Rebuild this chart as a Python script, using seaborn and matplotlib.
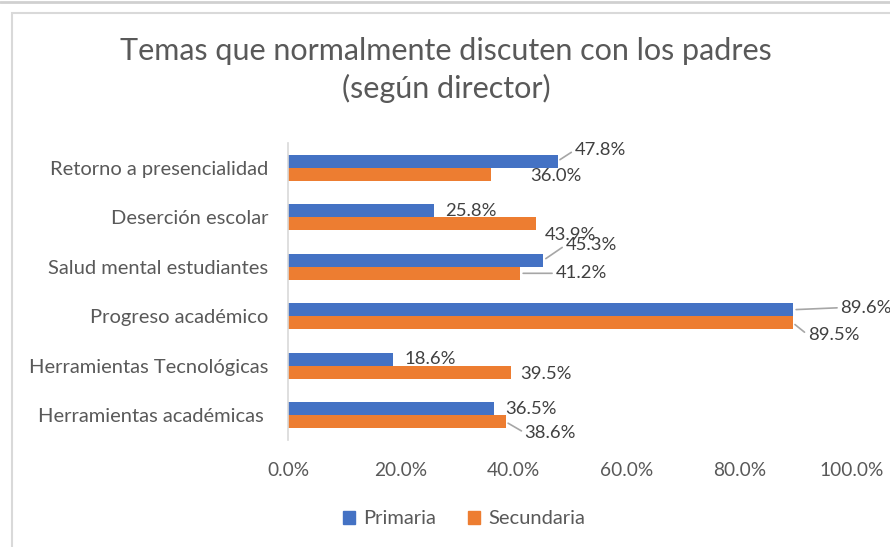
import matplotlib
matplotlib.use("Agg")
import matplotlib.pyplot as plt
import seaborn as sns
import pandas as pd
from matplotlib.patches import Rectangle
from matplotlib.lines import Line2D

categories = ["Retorno a presencialidad", "Deserción escolar", "Salud mental estudiantes",
              "Progreso académico", "Herramientas Tecnológicas", "Herramientas académicas "]
primaria = [47.8, 25.8, 45.3, 89.6, 18.6, 36.5]
secundaria = [36.0, 43.9, 41.2, 89.5, 39.5, 38.6]
series = ["Primaria", "Secundaria"]
xticks = [0, 20, 40, 60, 80, 100]
title = "Temas que normalmente discuten con los padres\n(según director)"

# label offsets in pixels (dx, dy up) and whether a leader line is drawn
offs_p = [(17, 11, True), (12, 0, False), (22, 15, True), (47, 2, True), (12, 0, False), (11, 0, False)]
offs_s = [(39, -2, False), (9, -11, False), (35, 0, True), (15, -12, True), (9, -2, False), (19, -11, True)]

df = pd.DataFrame({
    "cat": categories * 2,
    "val": primaria + secundaria,
    "serie": [series[0]] * len(categories) + [series[1]] * len(categories),
})

sns.set_theme(style="white")
plt.rcParams["font.family"] = ["Lato", "DejaVu Sans"]

colors = {"Primaria": "#4472C4", "Secundaria": "#ED7D31"}
fig = plt.figure(figsize=(8.9, 5.47), dpi=100)
ax = fig.add_axes([288/890, 1-440/547, (852-288)/890, (440-143)/547])
sns.barplot(data=df, y="cat", x="val", hue="serie", orient="h", palette=colors,
            width=0.53, ax=ax, legend=False, saturation=1, edgecolor="none")

ax.set_xlim(0, 100)
ax.set_ylim(5.5, -0.5)
ax.set_xticks(xticks)
ax.set_xticklabels([f"{t:.1f}%" for t in xticks], color="#595959", fontsize=13.8)
ax.tick_params(axis="y", labelsize=14.5, labelcolor="#595959", length=0, pad=14)
ax.tick_params(axis="x", length=0, pad=16)
ax.set_xlabel("")
ax.set_ylabel("")
for s in ["top", "right", "bottom"]:
    ax.spines[s].set_visible(False)
ax.spines["left"].set_color("#D9D9D9")
ax.spines["left"].set_linewidth(1.2)

pt = 72 / 100
for cont, offs in zip(ax.containers, [offs_p, offs_s]):
    for p, (dx, dy, lead) in zip(cont.patches, offs):
        w = p.get_width()
        yc = p.get_y() + p.get_height() / 2
        kw = {}
        if lead:
            kw["arrowprops"] = dict(arrowstyle="-", color="#A6A6A6", lw=1.2,
                                    shrinkA=0, shrinkB=2, relpos=(0, 0.5))
        ax.annotate(f"{w:.1f}%", xy=(w, yc), xytext=(dx * pt, dy * pt),
                    textcoords="offset points", ha="left", va="center",
                    fontsize=13.3, color="#404040", annotation_clip=False, **kw)

fig.text(446/890, 1-70/547, title, ha="center", va="center", fontsize=22,
         color="#595959", linespacing=1.4)

handles = [Rectangle((0, 0), 1, 1, color=colors[s]) for s in series]
fig.legend(handles, series, loc="center", bbox_to_anchor=(464/890, 1-519/547), ncol=2,
           frameon=False, fontsize=14.5, labelcolor="#595959", handlelength=0.6,
           handleheight=0.6, handletextpad=0.4, columnspacing=1.6)

fig.patches.append(Rectangle((12/890, -0.1), 1.0, 1-13/547+0.1, transform=fig.transFigure,
                             fill=False, edgecolor="#D9D9D9", lw=1.5))
fig.lines.append(Line2D([0, 1], [1-2/547, 1-2/547], transform=fig.transFigure,
                        color="#D0D0D0", lw=2))

fig.savefig("out.png", dpi=100)
